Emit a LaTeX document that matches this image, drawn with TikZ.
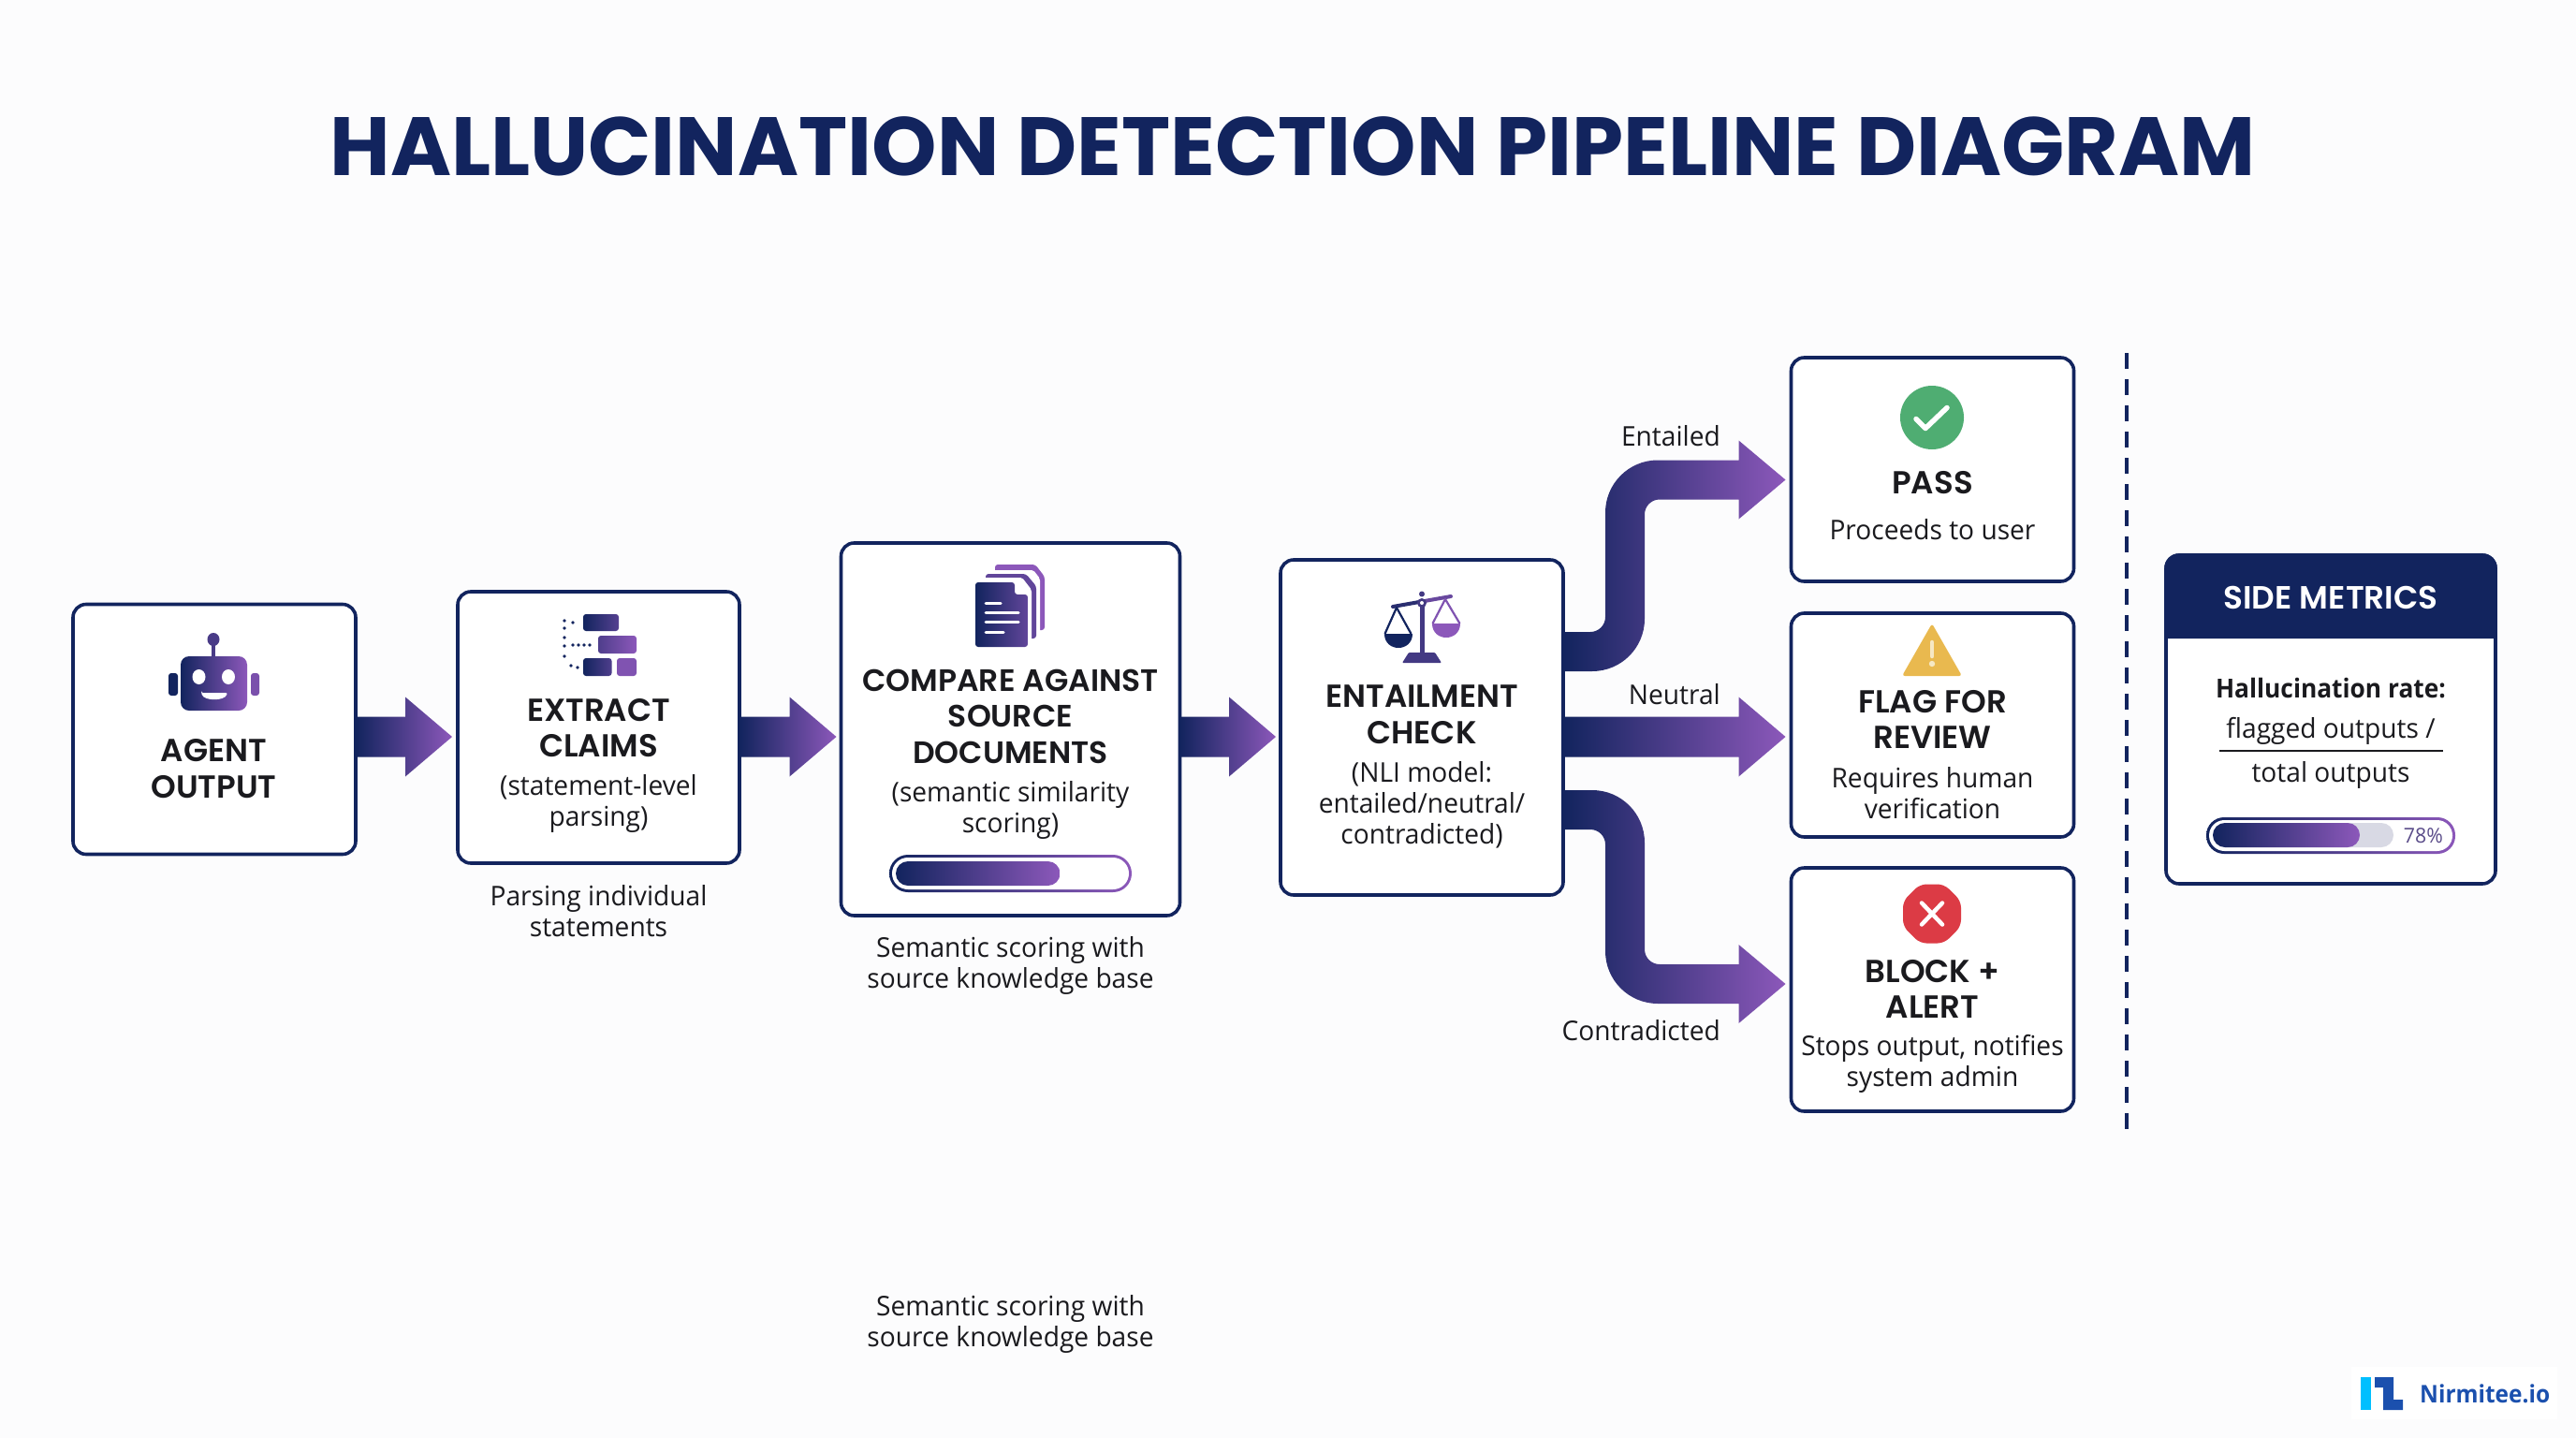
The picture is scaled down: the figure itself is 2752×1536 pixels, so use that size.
\documentclass[tikz,border=0pt]{standalone}
\usepackage{fontspec}
\setmainfont{Open Sans}[FakeStretch=0.97,BoldFeatures={FakeStretch=0.94}]
\newfontfamily\headfont{Poppins}[UprightFont=* SemiBold,BoldFont=* Bold]
\usetikzlibrary{calc}
\definecolor{navy}{HTML}{12245E}
\definecolor{grape}{HTML}{8C58BA}
\definecolor{pagebg}{HTML}{FCFCFD}
\definecolor{inktext}{HTML}{1A1A1E}
\definecolor{passgreen}{HTML}{4FAD72}
\definecolor{warnyellow}{HTML}{E9B94F}
\definecolor{warnpale}{HTML}{F6E8C4}
\definecolor{stopred}{HTML}{DC3B45}
\definecolor{tracky}{HTML}{D8D9E4}
\definecolor{pctpurple}{HTML}{5B4D8A}
\definecolor{logosky}{HTML}{00BFFF}
\definecolor{logoblue}{HTML}{1B50AE}
\tikzset{
  x=1pt,y=-1pt,
  flow/.style={left color=navy,right color=grape,shading angle=90,draw=none},
  card/.style={draw=navy,line width=3.6pt,fill=white,rounded corners=14pt,outer sep=0pt,inner sep=0pt},
  head/.style={font=\headfont\fontsize{34}{38.5}\selectfont,text=inktext,align=center,inner sep=0pt},
  sub/.style={font=\fontsize{29}{33}\selectfont,text=inktext,align=center,inner sep=0pt},
  lab/.style={font=\fontsize{29}{33}\selectfont,text=inktext,anchor=east,inner sep=0pt},
}
\newcommand{\fatarrow}[2]{%
  \shade[flow] let \p1=(#1),\p2=(#2) in
  ({\x1},{\y1+21.5pt}) -- ({\x2-50pt},{\y1+21.5pt}) -- ({\x2-50pt},{\y1+42.5pt}) -- ({\x2},{\y1})
  -- ({\x2-50pt},{\y1-42.5pt}) -- ({\x2-50pt},{\y1-21.5pt}) -- ({\x1},{\y1-21.5pt}) -- cycle;}
\newcommand{\fatbend}[5]{%
  \shade[flow] let \p1=(#1),\p2=(#2) in
  ({\x1},{\y1+21pt}) [rounded corners=#4] -- ({\x1+66pt+#3},{\y1+21pt}) [rounded corners=#5] -- ({\x1+66pt+#3},{\y2+21pt}) [sharp corners]
  -- ({\x2-50pt},{\y2+21pt}) -- ({\x2-50pt},{\y2+42pt}) -- ({\x2},{\y2}) -- ({\x2-50pt},{\y2-42pt}) -- ({\x2-50pt},{\y2-21pt})
  [rounded corners=#4] -- ({\x1+66pt-#3},{\y2-21pt}) [rounded corners=#5] -- ({\x1+66pt-#3},{\y1-21pt}) [sharp corners] -- ({\x1},{\y1-21pt}) -- cycle;}
\begin{document}
\begin{tikzpicture}
\useasboundingbox (0,0) rectangle (2752,1536);
\fill[pagebg] (0,0) rectangle (2752,1536);
\node[font=\headfont\bfseries\fontsize{88.3}{100}\selectfont,text=navy,inner sep=0pt] (title) at (1381,156) {HALLUCINATION DETECTION PIPELINE DIAGRAM};
% cards
\node[card,minimum width=302pt,minimum height=267pt] (agent) at (229,779) {};
\node[card,minimum width=301pt,minimum height=290pt] (extract) at (639.5,777) {};
\node[card,minimum width=362pt,minimum height=398pt] (compare) at (1079.5,779) {};
\node[card,minimum width=302pt,minimum height=358pt] (entail) at (1519,777) {};
\node[card,minimum width=302pt,minimum height=239pt] (pass) at (2064.5,501.5) {};
\node[card,minimum width=302pt,minimum height=239pt] (flag) at (2064.5,774.5) {};
\node[card,minimum width=302pt,minimum height=260pt] (block) at (2064.5,1057) {};
\node[card,minimum width=352pt,minimum height=351pt] (metrics) at (2490,768.5) {};
% arrows
\coordinate (a1) at ($(agent.east)+(0,8)$);
\coordinate (t1) at ($(extract.west)+(-6,10)$);
\fatarrow{a1}{t1}
\coordinate (a2) at ($(extract.east)+(0,10)$);
\coordinate (t2) at ($(compare.west)+(-5,8)$);
\fatarrow{a2}{t2}
\coordinate (a3) at ($(compare.east)+(0,8)$);
\coordinate (t3) at ($(entail.west)+(-5,10)$);
\fatarrow{a3}{t3}
\coordinate (a4) at ($(entail.east)+(0,-81)$);
\coordinate (t4) at ($(pass.west)+(-6,11)$);
\fatbend{a4}{t4}{-21pt}{16pt}{56pt}
\coordinate (a5) at ($(entail.east)+(0,10)$);
\coordinate (t5) at ($(flag.west)+(-6,13)$);
\fatarrow{a5}{t5}
\coordinate (a6) at ($(entail.east)+(0,88)$);
\coordinate (t6) at ($(block.west)+(-6,-6)$);
\fatbend{a6}{t6}{21pt}{56pt}{16pt}
% arrow labels
\node[lab] (lEnt) at (1838,466) {Entailed};
\node[lab] (lNeu) at (1838,742) {Neutral};
\node[lab] (lCon) at (1838,1101) {Contradicted};
% agent
\node[head] (agentT) at (228.5,821) {AGENT\\OUTPUT};
\fill[navy,rounded corners=3pt] (180,719) rectangle (190,743);
\fill[grape!85!navy,rounded corners=3pt] (268,719) rectangle (277,743);
\fill[navy!55!grape] (226,686) rectangle (230,703);
\fill[navy!55!grape] (228,683) ellipse (6.5 and 7);
\shade[flow,rounded corners=9pt] (193,701) rectangle (264,759);
\fill[white] (212.5,723) ellipse (7 and 8);
\fill[white] (244,723) ellipse (7 and 8);
\fill[white,rounded corners=2pt] (215,740) -- (243,740) .. controls (240,749) and (218,749) .. cycle;
% extract
\node[head] (extractT) at (639.5,777.5) {EXTRACT\\CLAIMS};
\node[sub] (extractS) at (639.5,858) {(statement-level\\parsing)};
\node[sub] (extractC) at (639.5,973.5) {Parsing individual\\statements};
\shade[flow,left color=navy,right color=navy!45!grape,rounded corners=3pt] (623,656) rectangle (661,674);
\shade[flow,left color=navy!50!grape,right color=grape,rounded corners=3pt] (639,679) rectangle (680,698);
\shade[flow,left color=navy,right color=navy!50!grape,rounded corners=3pt] (623,703) rectangle (653.5,722);
\fill[grape!90!navy,rounded corners=3pt] (659,703) rectangle (680,722);
\foreach \px/\py in {603/663,603/671,603/681,603/690,603/701,612/665,612/689,618/689,624/689,630/689,610/711,617/713}{\fill[navy] (\px,\py) circle (1.9);}
% compare
\node[head,font=\headfont\fontsize{33}{38.5}\selectfont] (compareT) at (1079.5,765) {COMPARE AGAINST\\SOURCE\\DOCUMENTS};
\node[sub] (compareS) at (1079.5,865.5) {(semantic similarity\\scoring)};
\node[sub] (compareC) at (1079.5,1031) {Semantic scoring with\\source knowledge base};
\node[sub] (compareD) at (1079.5,1414) {Semantic scoring with\\source knowledge base};
\fill[grape,rounded corners=3pt] (1063,603) -- (1106,603) -- (1116,616) -- (1116,673) -- (1063,673) -- cycle;
\fill[white,rounded corners=2pt] (1058,609) -- (1104,609) -- (1111,618) -- (1111,678) -- (1058,678) -- cycle;
\fill[navy!35!grape,rounded corners=3pt] (1053,613) -- (1096,613) -- (1107,626) -- (1107,682) -- (1053,682) -- cycle;
\fill[white,rounded corners=2pt] (1048,617) -- (1092,617) -- (1102,630) -- (1102,687) -- (1048,687) -- cycle;
\shade[flow,right color=navy!35!grape,rounded corners=3pt] (1042,622) -- (1084,622) -- (1084,635) -- (1098,635) -- (1098,691) -- (1042,691) -- cycle;
\fill[white] (1086,623) -- (1097,633) -- (1086,633) -- cycle;
\foreach \py/\pe in {644/1069,654/1088,664.5/1088,675/1072}{\draw[white,line width=3pt,line cap=round] (1053,\py) -- (\pe,\py);}
\shade[flow,rounded corners=20pt] (950,913) rectangle (1209,953);
\fill[white,rounded corners=17pt] (953,916) rectangle (1206,950);
\shade[flow,rounded corners=13pt] (957,920) rectangle (1132.5,946);
% entail
\node[head] (entailT) at (1519,763) {ENTAILMENT\\CHECK};
\node[sub] (entailS) at (1519,860) {(NLI model:\\entailed/neutral/\\contradicted)};
\fill[navy!60!grape] (1516.5,640) rectangle (1521.5,699);
\fill[navy!60!grape,rounded corners=1pt] (1505,697) -- (1533,697) -- (1540,708) -- (1498,708) -- cycle;
\draw[navy!80!grape,line width=4pt,line cap=round] (1488,648) -- (1519,642.5);
\draw[navy!30!grape,line width=4pt,line cap=round] (1519,642.5) -- (1550,637);
\fill[navy!60!grape] (1519,634.5) circle (3);
\fill[navy!60!grape] (1519,644) circle (5);
\fill[white] (1519,644) circle (2);
\draw[navy,line width=2.2pt,line join=round] (1479.5,677) -- (1492,649) -- (1507.5,677);
\fill[navy] (1478.5,677) -- (1508.5,677) .. controls (1508.5,697) and (1478.5,697) .. cycle;
\draw[grape!90!navy,line width=2.2pt,line join=round] (1530.5,666) -- (1544,640) -- (1559.5,666);
\fill[grape] (1530,666) -- (1560,666) .. controls (1560,686) and (1530,686) .. cycle;
% pass
\node[head] (passT) at (2064.5,516) {PASS};
\node[sub] (passS) at (2064.5,566) {Proceeds to user};
\fill[passgreen] (2064,446) circle (34);
\draw[white,line width=5.5pt,line cap=round,line join=round] (2047,447.5) -- (2057,457.5) -- (2080,435.5);
% flag
\node[head] (flagT) at (2064.5,768.5) {FLAG FOR\\REVIEW};
\node[sub] (flagS) at (2064.5,847) {Requires human\\verification};
\fill[warnyellow,rounded corners=3pt] (2064,666) -- (2096,722) -- (2032,722) -- cycle;
\draw[warnpale,line width=4.5pt,line cap=round] (2064,686) -- (2064,701);
\fill[warnpale] (2064,709) circle (3.2);
% block
\node[head] (blockT) at (2064.5,1056.5) {BLOCK +\\ALERT};
\node[sub] (blockS) at (2064.5,1136) {Stops output, notifies\\system admin};
\fill[stopred,rounded corners=7pt] (2051,944.5) -- (2077,944.5) -- (2095,962.5) -- (2095,989.5) -- (2077,1007.5) -- (2051,1007.5) -- (2033,989.5) -- (2033,962.5) -- cycle;
\draw[white,line width=4.5pt,line cap=round] (2053,964.5) -- (2075,987.5) (2075,964.5) -- (2053,987.5);
% divider
\coordinate (divTop) at (2272,377);
\coordinate (divEnd) at (2272,1206);
\draw[navy,line width=4pt,dash pattern=on 17pt off 11pt] (divTop) -- (divEnd);
% metrics
\fill[navy] (2312.2,682) -- (2312.2,607) .. controls (2312.2,598) and (2319,591.2) .. (2328,591.2) -- (2652,591.2) .. controls (2661,591.2) and (2667.8,598) .. (2667.8,607) -- (2667.8,682) -- cycle;
\node[font=\headfont\fontsize{34.3}{36}\selectfont,text=white,inner sep=0pt] (metricsT) at (2490,638) {SIDE METRICS};
\node[sub,font=\bfseries\fontsize{28}{33}\selectfont] (rateT) at (2490,735.5) {Hallucination rate:};
\node[sub] (rateA) at (2490,781) {flagged outputs /};
\node[sub] (rateB) at (2490,828) {total outputs};
\draw[inktext,line width=2pt] (2371,802) -- (2610,802);
\shade[flow,rounded corners=19pt] (2357,873) rectangle (2623,912);
\fill[white,rounded corners=16.5pt] (2360,876) rectangle (2620,909);
\fill[tracky,rounded corners=13pt] (2364,879) rectangle (2557,905);
\shade[flow,rounded corners=13pt] (2364,879) rectangle (2521,905);
\node[font=\fontsize{22}{24}\selectfont,text=pctpurple,anchor=east,inner sep=0pt] (pct) at (2610,893) {78\%};
% logo
\fill[white] (2512,1460) rectangle (2732,1516);
\fill[logosky] (2522,1471) rectangle (2533,1506);
\fill[logoblue] (2537,1471) -- (2557,1471) -- (2557,1495) -- (2567,1495) -- (2567,1506) -- (2546,1506) -- (2546,1482) -- (2537,1482) -- cycle;
\node[font=\bfseries\fontsize{26}{28}\selectfont,text=logoblue,anchor=west,inner sep=0pt] (logo) at (2585,1489) {Nirmitee.io};
\end{tikzpicture}
\end{document}
